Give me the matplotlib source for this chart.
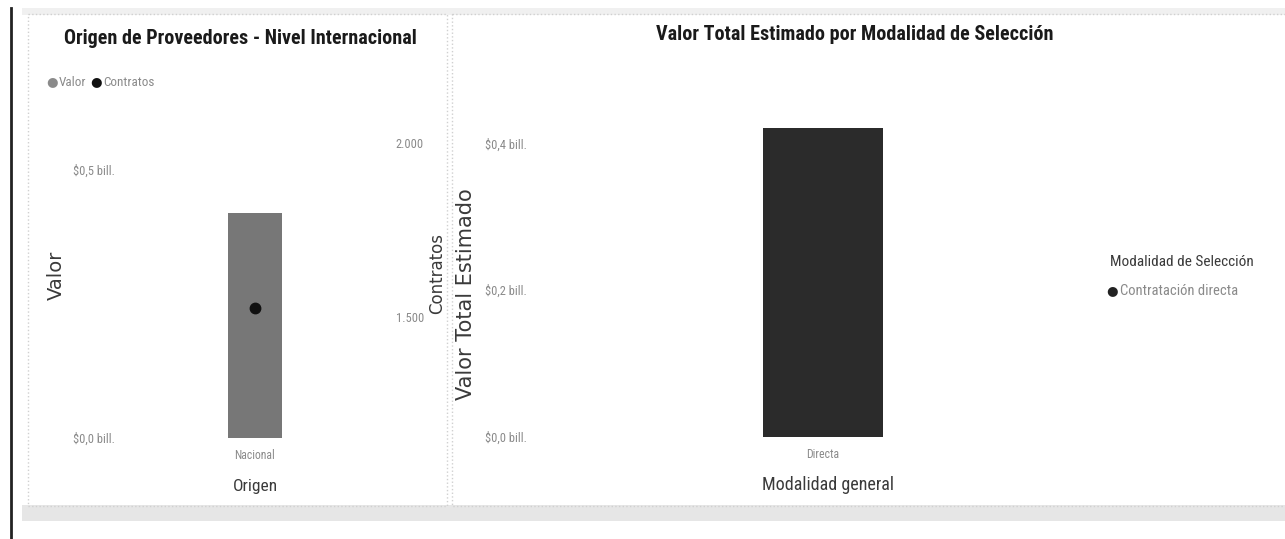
import matplotlib.pyplot as plt
from matplotlib import font_manager
from matplotlib.patches import Rectangle
from matplotlib.lines import Line2D

# data
origen_cats = ['Nacional']
origen_valor = [0.42]          # billones
origen_contratos = [1525]
modalidad_cats = ['Directa']
modalidad_valor = [0.42]       # billones

W, H = 1285, 539
avail = {f.name for f in font_manager.fontManager.ttflist}
cands = ['Roboto Condensed', 'Liberation Sans Narrow', 'Open Sans Condensed',
         'Archivo Narrow', 'PT Sans Narrow', 'Fira Sans Condensed',
         'IBM Plex Sans Condensed', 'Barlow Condensed']
NARROW = [next((n for n in cands if n in avail), 'Liberation Sans'), 'DejaVu Sans']
TICK_GRAY = '#8a8a8a'
TEXT_DARK = '#3a3a3a'


def fx(px):
    return px / W


def fy(py):
    return 1 - py / H


def axes_px(fig, x0, y0, x1, y1):
    # axes from pixel box (top-left origin)
    return fig.add_axes([fx(x0), fy(y1), fx(x1) - fx(x0), (y1 - y0) / H])


def bill(v, pos):
    return '$' + f'{v:.1f}'.replace('.', ',') + ' bill.'


def miles(v, pos):
    return f'{int(v):,}'.replace(',', '.')


fig = plt.figure(figsize=(W / 100, H / 100), dpi=100)
fig.set_facecolor('white')

# panel frames and scan bands
bg = fig.add_axes([0, 0, 1, 1])
bg.set_xlim(0, W)
bg.set_ylim(H, 0)
bg.axis('off')
bg.add_patch(Rectangle((22, 8), 1263, 7, color='#f0f0f0', lw=0))
bg.add_patch(Rectangle((22, 505), 1263, 16, color='#e6e6e6', lw=0))
bg.add_patch(Rectangle((28, 14), 419, 492, fill=False, ec='#d0d0d0', lw=1, ls=':'))
bg.add_patch(Rectangle((452, 14), 840, 492, fill=False, ec='#d0d0d0', lw=1, ls=':'))
bg.add_line(Line2D([11, 11], [8, 539], color='#222222', lw=2))

# ---- left chart: Origen de Proveedores
ax = axes_px(fig, 120, 125, 390, 438)
ax.bar(origen_cats, origen_valor, width=0.2, color='#777777')
ax.set_xlim(-0.5, 0.5)
ax.set_ylim(0, 0.584)
ax.set_yticks([0, 0.5])
ax.yaxis.set_major_formatter(bill)
ax.tick_params(axis='y', length=0, pad=4, labelsize=9, labelcolor=TICK_GRAY)
ax.tick_params(axis='x', length=0, pad=8, labelsize=8.5, labelcolor=TICK_GRAY)
for t in ax.get_xticklabels() + ax.get_yticklabels():
    t.set_family(NARROW)
for s in ax.spines.values():
    s.set_visible(False)

ax2 = ax.twinx()
ax2.plot(origen_cats, origen_contratos, 'o', color='#111111', ms=7.5)
ax2.set_ylim(1152, 2052)
ax2.set_yticks([1500, 2000])
ax2.yaxis.set_major_formatter(miles)
ax2.tick_params(axis='y', length=0, pad=4, labelsize=9, labelcolor=TICK_GRAY)
for t in ax2.get_yticklabels():
    t.set_family(NARROW)
for s in ax2.spines.values():
    s.set_visible(False)

fig.text(fx(240), fy(38), 'Origen de Proveedores - Nivel Internacional',
         ha='center', va='center', fontsize=14.5, fontweight='bold',
         family=NARROW, color='#1a1a1a')
fig.text(fx(56), fy(275), 'Valor', rotation=90, ha='center', va='center',
         fontsize=14, color=TEXT_DARK)
fig.text(fx(437), fy(274), 'Contratos', rotation=90, ha='center', va='center',
         fontsize=12, color=TEXT_DARK)
fig.text(fx(255), fy(486), 'Origen', ha='center', va='center',
         fontsize=12.5, family=NARROW, color=TEXT_DARK)
# legend
fig.text(fx(46), fy(82), '●', ha='left', va='center', fontsize=9.5, color='#8a8a8a')
fig.text(fx(59), fy(82), 'Valor', ha='left', va='center', fontsize=9.5,
         family=NARROW, color=TICK_GRAY)
fig.text(fx(90), fy(82), '●', ha='left', va='center', fontsize=9.5, color='#111111')
fig.text(fx(103), fy(82), 'Contratos', ha='left', va='center', fontsize=9.5,
         family=NARROW, color=TICK_GRAY)

# ---- right chart: Valor Total Estimado por Modalidad
bx = axes_px(fig, 535, 80, 1100, 437)
bx.bar(modalidad_cats, modalidad_valor, width=0.212, color='#2b2b2b')
bx.set_xlim(-0.51, 0.49)
bx.set_ylim(0, 0.486)
bx.set_yticks([0, 0.2, 0.4])
bx.yaxis.set_major_formatter(bill)
bx.tick_params(axis='y', length=0, pad=6, labelsize=9, labelcolor=TICK_GRAY)
bx.tick_params(axis='x', length=0, pad=8, labelsize=8.5, labelcolor=TICK_GRAY)
for t in bx.get_xticklabels() + bx.get_yticklabels():
    t.set_family(NARROW)
for s in bx.spines.values():
    s.set_visible(False)

fig.text(fx(855), fy(35), 'Valor Total Estimado por Modalidad de Selección',
         ha='center', va='center', fontsize=14.5, fontweight='bold',
         family=NARROW, color='#1a1a1a')
fig.text(fx(466), fy(294), 'Valor Total Estimado', rotation=90,
         ha='center', va='center', fontsize=15, color=TEXT_DARK)
fig.text(fx(828), fy(485), 'Modalidad general', ha='center', va='center',
         fontsize=13, family=NARROW, color=TEXT_DARK)
fig.text(fx(1110), fy(262), 'Modalidad de Selección', ha='left', va='center',
         fontsize=11, family=NARROW, color=TEXT_DARK)
fig.text(fx(1106), fy(291), '●', ha='left', va='center', fontsize=9.5, color='#222222')
fig.text(fx(1120), fy(291), 'Contratación directa', ha='left', va='center',
         fontsize=10.5, family=NARROW, color=TICK_GRAY)

fig.savefig('out.png', dpi=100)
